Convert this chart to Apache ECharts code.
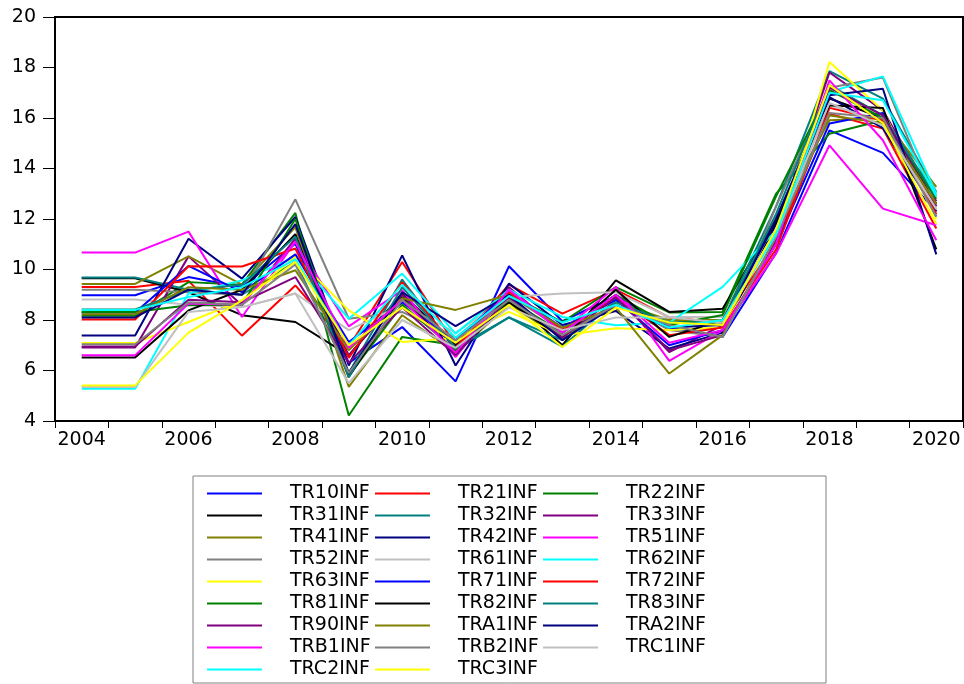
<!DOCTYPE html>
<html><head><meta charset="utf-8">
<script src="https://cdn.jsdelivr.net/npm/echarts@6/dist/echarts.min.js"></script>
<style>html,body{margin:0;padding:0;background:#fff}#c{width:964px;height:684px}</style>
</head><body><div id="c"></div>
<script>
const years = ['2004','2005','2006','2007','2008','2009','2010','2011','2012','2013','2014','2015','2016','2017','2018','2019','2020'];
const yMin = 4, yMax = 20, yStep = 2;

const TR10INF = [8.98, 8.98, 9.70, 9.30, 11.02, 6.30, 7.72, 5.57, 10.13, 7.95, 8.95, 7.70, 7.33, 10.65, 15.51, 14.62, 12.30];
const TR21INF = [9.31, 9.31, 9.55, 7.38, 9.37, 6.93, 10.30, 7.00, 9.40, 8.25, 9.20, 8.10, 7.90, 11.10, 16.17, 15.58, 11.62];
const TR22INF = [8.17, 8.17, 9.50, 9.40, 12.24, 4.22, 7.33, 7.00, 9.00, 7.92, 9.30, 8.30, 8.32, 13.00, 15.38, 15.91, 12.90];
const TR31INF = [9.65, 9.65, 9.10, 8.19, 7.92, 6.60, 9.05, 7.00, 8.90, 7.00, 9.57, 8.32, 8.45, 12.00, 16.77, 16.00, 12.60];
const TR32INF = [9.68, 9.68, 9.20, 9.00, 10.30, 5.90, 9.60, 6.80, 8.10, 6.95, 8.80, 7.90, 8.00, 12.50, 17.86, 16.77, 13.07];
const TR33INF = [6.91, 6.91, 10.52, 8.58, 11.22, 6.60, 9.00, 6.90, 9.30, 7.50, 9.00, 6.73, 7.80, 11.50, 17.80, 16.30, 12.70];
const TR41INF = [9.43, 9.43, 10.52, 9.40, 11.68, 5.35, 8.19, 6.70, 8.60, 7.30, 8.70, 8.00, 8.00, 12.00, 15.91, 16.00, 13.27];
const TR42INF = [7.39, 7.39, 11.22, 9.64, 12.08, 6.20, 10.56, 6.20, 9.44, 7.80, 8.36, 6.87, 7.50, 11.80, 16.83, 15.60, 12.30];
const TR51INF = [10.67, 10.67, 11.50, 8.12, 11.10, 7.75, 9.18, 6.53, 9.20, 7.60, 9.31, 6.38, 7.60, 10.63, 14.92, 12.41, 11.75];
const TR52INF = [9.20, 9.20, 9.10, 9.00, 12.78, 8.05, 8.32, 7.30, 9.00, 7.60, 8.80, 7.60, 7.33, 12.50, 17.20, 17.60, 12.50];
const TR61INF = [8.81, 8.81, 8.60, 8.51, 9.05, 7.60, 8.60, 7.50, 8.91, 9.05, 9.10, 8.12, 8.12, 11.50, 16.50, 15.90, 12.40];
const TR62INF = [5.28, 5.28, 9.05, 9.57, 10.50, 8.05, 9.84, 7.46, 9.20, 8.12, 7.79, 7.90, 9.31, 11.55, 17.03, 17.65, 13.00];
const TR63INF = [7.09, 7.09, 7.92, 8.78, 10.50, 8.38, 7.13, 7.29, 8.32, 7.40, 7.67, 7.60, 7.70, 11.00, 18.22, 16.30, 12.00];
const TR71INF = [8.30, 8.30, 10.14, 9.10, 10.60, 7.13, 8.70, 7.20, 9.10, 7.70, 8.80, 7.00, 7.60, 11.00, 15.78, 16.20, 12.10];
const TR72INF = [8.02, 8.02, 10.13, 10.12, 10.83, 6.50, 9.50, 6.90, 9.10, 7.60, 8.90, 7.40, 7.70, 10.80, 16.40, 15.90, 12.20];
const TR81INF = [8.32, 8.32, 8.58, 8.60, 12.00, 5.80, 8.60, 6.80, 8.80, 7.50, 9.00, 7.80, 8.20, 12.90, 17.10, 16.00, 12.80];
const TR82INF = [6.51, 6.51, 8.38, 9.20, 11.40, 5.74, 8.90, 6.70, 8.70, 7.30, 9.20, 7.33, 8.00, 11.90, 16.50, 16.40, 10.80];
const TR83INF = [8.42, 8.42, 9.18, 9.40, 11.30, 5.73, 9.30, 6.90, 8.10, 7.20, 8.70, 7.90, 7.90, 12.20, 17.30, 16.10, 12.90];
const TR90INF = [6.95, 6.95, 8.80, 8.70, 9.70, 6.30, 8.50, 6.60, 8.90, 7.30, 8.90, 6.80, 7.40, 11.20, 17.20, 16.10, 12.50];
const TRA1INF = [8.23, 8.23, 9.30, 9.20, 9.97, 6.80, 8.86, 8.40, 9.00, 7.70, 8.50, 5.88, 7.40, 11.30, 16.10, 15.80, 12.60];
const TRA2INF = [8.10, 8.10, 9.20, 9.00, 11.80, 5.90, 9.10, 7.76, 9.00, 7.20, 8.60, 7.70, 7.80, 12.00, 16.90, 17.16, 10.60];
const TRB1INF = [6.60, 6.60, 8.65, 8.60, 11.10, 6.90, 8.80, 6.70, 9.20, 7.50, 9.00, 7.10, 7.60, 11.00, 17.49, 15.12, 11.16];
const TRB2INF = [7.04, 7.04, 8.70, 8.60, 10.20, 5.90, 8.80, 7.20, 8.80, 7.40, 8.60, 7.80, 7.33, 11.30, 16.20, 16.00, 12.10];
const TRC1INF = [5.35, 5.35, 8.32, 8.51, 9.05, 5.50, 8.00, 6.90, 8.50, 7.60, 8.10, 8.10, 7.90, 11.40, 16.60, 15.70, 12.40];
const TRC2INF = [8.40, 8.40, 8.91, 9.30, 10.40, 7.00, 9.40, 7.30, 8.95, 7.90, 8.60, 7.70, 8.00, 11.40, 17.00, 16.70, 12.90];
const TRC3INF = [5.41, 5.41, 7.50, 8.78, 10.30, 7.00, 8.50, 7.10, 8.60, 6.93, 8.49, 7.90, 7.80, 11.60, 17.30, 15.80, 11.80];

const seriesNames = ['TR10INF','TR21INF','TR22INF','TR31INF','TR32INF','TR33INF','TR41INF','TR42INF','TR51INF','TR52INF','TR61INF','TR62INF','TR63INF','TR71INF','TR72INF','TR81INF','TR82INF','TR83INF','TR90INF','TRA1INF','TRA2INF','TRB1INF','TRB2INF','TRC1INF','TRC2INF','TRC3INF'];
const seriesData = [TR10INF,TR21INF,TR22INF,TR31INF,TR32INF,TR33INF,TR41INF,TR42INF,TR51INF,TR52INF,TR61INF,TR62INF,TR63INF,TR71INF,TR72INF,TR81INF,TR82INF,TR83INF,TR90INF,TRA1INF,TRA2INF,TRB1INF,TRB2INF,TRC1INF,TRC2INF,TRC3INF];
const palette = ['#0000FF','#FF0000','#008000','#000000','#008080','#800080','#808000','#000080','#FF00FF','#808080','#C0C0C0','#00FFFF','#FFFF00'];

const FONT = 'DejaVu Sans';
const chart = echarts.init(document.getElementById('c'), null, {renderer: 'canvas'});
chart.setOption({
  animation: false,
  backgroundColor: '#fff',
  color: palette.concat(palette),
  grid: {left: 55, top: 17, width: 908, height: 404, show: true, borderColor: '#000', borderWidth: 2, backgroundColor: 'transparent'},
  xAxis: {
    type: 'category', data: years, boundaryGap: true,
    axisLine: {show: true, lineStyle: {color: '#000', width: 2}},
    axisTick: {show: true, interval: 0, length: 7, lineStyle: {color: '#000', width: 1}},
    axisLabel: {interval: 1, margin: 10, color: '#000', fontFamily: FONT, fontSize: 19},
    splitLine: {show: false}
  },
  yAxis: {
    type: 'value', min: yMin, max: yMax, interval: yStep,
    axisLine: {show: true, lineStyle: {color: '#000', width: 2}},
    axisTick: {show: true, length: 12, lineStyle: {color: '#000', width: 1}},
    axisLabel: {margin: 19, color: '#000', fontFamily: FONT, fontSize: 19},
    splitLine: {show: false}
  },
  legend: {
    data: seriesNames,
    orient: 'horizontal',
    left: 193, top: 476, width: 510,
    padding: [8, 118, 4, 14],
    borderColor: '#808080', borderWidth: 1,
    icon: 'rect',
    itemWidth: 55, itemHeight: 2, itemGap: 3,
    itemStyle: {borderWidth: 0},
    textStyle: {fontFamily: FONT, fontSize: 19, color: '#000', width: 82, padding: [0, 0, 0, 23], lineHeight: 19}
  },
  series: seriesNames.map((n, i) => ({
    name: n, type: 'line', data: seriesData[i],
    symbol: 'none', showSymbol: false,
    lineStyle: {width: 2, color: palette[i % 13]},
    itemStyle: {color: palette[i % 13]},
    emphasis: {disabled: true}
  }))
});
</script></body></html>
